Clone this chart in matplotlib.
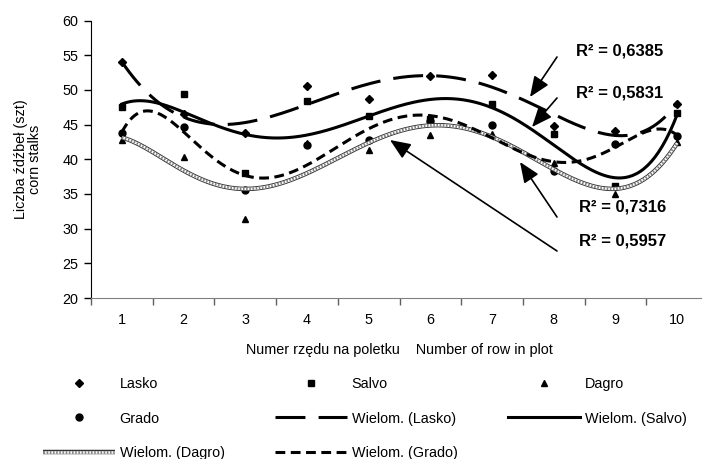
import numpy as np
import matplotlib
matplotlib.use("Agg")
import matplotlib.pyplot as plt
from matplotlib.legend_handler import HandlerTuple

rows = [1, 2, 3, 4, 5, 6, 7, 8, 9, 10]
lasko = [54.0, 46.5, 43.8, 50.5, 48.7, 52.0, 52.2, 44.8, 44.1, 48.0]
salvo = [47.5, 49.4, 38.0, 48.4, 46.3, 45.8, 48.0, 43.7, 36.1, 46.7]
dagro = [42.8, 40.3, 31.4, 42.3, 41.4, 43.5, 43.6, 39.5, 35.0, 42.5]
grado = [43.8, 44.7, 35.6, 42.0, 42.8, 45.5, 45.0, 38.3, 42.2, 43.4]
r2_labels = ["R² = 0,6385", "R² = 0,5831", "R² = 0,7316", "R² = 0,5957"]

plt.rcParams['font.family'] = ['Liberation Sans', 'DejaVu Sans']
plt.rcParams['font.size'] = 10.4

fig = plt.figure(figsize=(7.02, 4.59), dpi=100)
ax = fig.add_axes([91/702, 1-298/459, 617/702, (298-20.5)/459])
ax.set_xlim(0.5, 10.5)
ax.set_ylim(20, 60)

x = np.array(rows, dtype=float)
xs = np.linspace(1, 10, 300)

DEG = 6
def fit(d):
    p = np.polyfit(x, np.array(d), DEG)
    return np.polyval(p, xs)

h_l, = ax.plot(rows, lasko, linestyle='none', marker='D', ms=4, color='black', label='Lasko')
h_s, = ax.plot(rows, salvo, linestyle='none', marker='s', ms=4.5, color='black', label='Salvo')
h_d, = ax.plot(rows, dagro, linestyle='none', marker='^', ms=5, color='black', label='Dagro')
h_g, = ax.plot(rows, grado, linestyle='none', marker='o', ms=5, color='black', label='Grado')

f_l, = ax.plot(xs, fit(lasko), color='black', lw=2.2, linestyle=(0, (9.8, 4.3)))
f_s, = ax.plot(xs, fit(salvo), color='black', lw=2.2)
d1, = ax.plot(xs, fit(dagro), color='#303030', lw=3.2, solid_capstyle='butt')
d2, = ax.plot(xs, fit(dagro), color='white', lw=1.9, solid_capstyle='butt')
d3, = ax.plot(xs, fit(dagro), color='#808080', lw=1.9, linestyle=(0, (0.6, 0.6)))
f_g, = ax.plot(xs, fit(grado), color='black', lw=2.2, linestyle=(0, (3.2, 1.8)))

for sp in ('top', 'right'):
    ax.spines[sp].set_visible(False)
ax.spines['bottom'].set_color('#808080')
ax.spines['left'].set_color('black')

ax.set_yticks(range(20, 61, 5))
ax.tick_params(axis='y', direction='out', length=5, width=1, colors='black', pad=4)
ax.set_xticks(np.arange(0.5, 10.6, 1.0))
ax.set_xticklabels([])
ax.set_xticks(rows, minor=True)
ax.set_xticklabels([str(r) for r in rows], minor=True)
ax.tick_params(axis='x', which='major', direction='out', length=5, width=1, color='#606060')
ax.tick_params(axis='x', which='minor', length=0, pad=11)

ax.set_ylabel("Liczba źdźbeł (szt)\ncorn stalks", linespacing=1.0)
ax.yaxis.set_label_coords(-0.079, 0.5)
ax.set_xlabel("Numer rzędu na poletku    Number of row in plot", labelpad=11)

kw = dict(fontsize=12, fontweight='bold', ha='left', va='center')
arrowprops = dict(arrowstyle='-|>,head_length=1.2,head_width=0.5', color='black', lw=1.2, shrinkA=0, shrinkB=0)
ax.annotate(r2_labels[0], xy=(0, 0), xycoords='figure pixels', xytext=(576, 459-51), textcoords='figure pixels', **kw)
ax.annotate('', xy=(530, 459-97), xycoords='figure pixels', xytext=(557, 459-57), textcoords='figure pixels', arrowprops=arrowprops)
ax.annotate(r2_labels[1], xy=(0, 0), xycoords='figure pixels', xytext=(576, 459-93), textcoords='figure pixels', **kw)
ax.annotate('', xy=(532, 459-127), xycoords='figure pixels', xytext=(557, 459-98), textcoords='figure pixels', arrowprops=arrowprops)
ax.annotate(r2_labels[2], xy=(0, 0), xycoords='figure pixels', xytext=(579, 459-207), textcoords='figure pixels', **kw)
ax.annotate('', xy=(520, 459-162), xycoords='figure pixels', xytext=(557, 459-217), textcoords='figure pixels', arrowprops=arrowprops)
ax.annotate(r2_labels[3], xy=(0, 0), xycoords='figure pixels', xytext=(579, 459-241), textcoords='figure pixels', **kw)
ax.annotate('', xy=(390, 459-140), xycoords='figure pixels', xytext=(557, 459-251), textcoords='figure pixels', arrowprops=arrowprops)

handles = [h_l, h_g, (d1, d2, d3), h_s, f_l, f_g, h_d, f_s]
labels = ['Lasko', 'Grado', 'Wielom. (Dagro)', 'Salvo', 'Wielom. (Lasko)', 'Wielom. (Grado)', 'Dagro', 'Wielom. (Salvo)']
fig.legend(handles, labels, ncol=3, loc='upper left', bbox_to_anchor=(30/702, 1-364/459),
           frameon=False, handlelength=5.0, handletextpad=0.3, columnspacing=3.5, labelspacing=1.42,
           handler_map={tuple: HandlerTuple(ndivide=1)})

fig.savefig('out.png', dpi=100)
